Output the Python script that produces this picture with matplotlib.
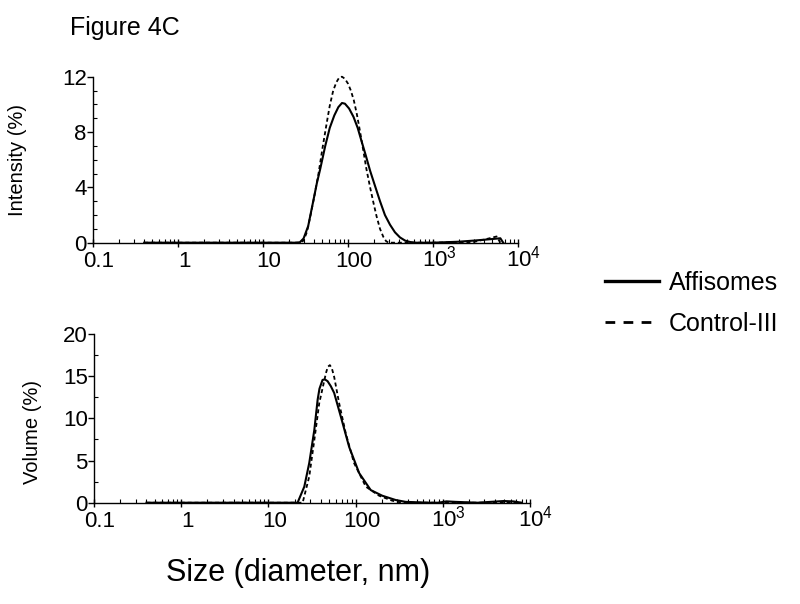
import matplotlib
matplotlib.use("Agg")
import matplotlib.pyplot as plt
import matplotlib.transforms as mtransforms
from matplotlib.lines import Line2D
from matplotlib.ticker import FixedLocator, MultipleLocator, LogLocator, NullFormatter

plt.rcParams['font.family'] = ['Liberation Sans', 'DejaVu Sans']

# --- data (size in nm, percent) ---
int_aff_size = [0.4, 1, 10, 24, 27, 30, 34, 39, 43, 47, 54, 61, 69, 77, 85, 92, 103, 116,
                130, 145, 162, 182, 208, 238, 272, 312, 357, 409, 470, 537, 620,
                1000, 2000, 3000, 4700, 6200, 6700]
int_aff_val = [0, 0, 0, 0, 0.02, 0.3, 1.2, 3.0, 4.3, 5.3, 7.0, 8.3, 9.2, 9.8, 10.1, 10.05,
               9.7, 9.1, 8.3, 7.3, 6.3, 5.2, 4.1, 3.0, 2.0, 1.3, 0.75, 0.38, 0.15, 0.05, 0,
               0, 0.07, 0.15, 0.25, 0.32, 0]

int_ctl_size = [0.4, 10, 27, 30, 33, 36, 40, 45, 50, 56, 61, 67, 73, 79, 85, 92, 100, 108,
                117, 127, 138, 151, 165, 182, 199, 217, 238, 260, 280, 300,
                1000, 3000, 4500, 5600, 6200]
int_ctl_val = [0, 0, 0, 0.15, 0.8, 1.9, 3.3, 5.0, 6.8, 8.6, 9.9, 11.0, 11.6, 11.95, 12.0,
               11.85, 11.5, 11.0, 10.3, 9.3, 8.1, 6.7, 5.3, 4.0, 2.9, 1.9, 1.0, 0.43, 0.12, 0,
               0, 0.05, 0.3, 0.45, 0]

vol_aff_size = [0.4, 1, 10, 21.6, 25.8, 29.4, 33.6, 36.7, 38.5, 41.8, 44.5, 47.7, 52,
                56.8, 67.7, 84.4, 110, 149, 202, 288, 375, 700, 900, 1100, 1400, 2500,
                5000, 6500, 8000]
vol_aff_val = [0, 0, 0, 0, 1.9, 4.7, 8.6, 12.2, 13.5, 14.55, 14.6, 14.4, 13.8,
               13.0, 10.2, 6.6, 3.5, 1.5, 0.83, 0.32, 0.1, 0, 0, 0.16, 0.1, 0,
               0.2, 0.15, 0]

vol_ctl_size = [0.4, 1, 10, 24.7, 29.4, 33.6, 38.3, 45.7, 48, 50.7, 53.5, 56.8, 64.7,
                77.2, 96, 131, 186, 263, 340, 1000, 8000]
vol_ctl_val = [0, 0, 0, 0, 3.1, 7.4, 11.8, 15.35, 16.1, 16.3, 15.9, 14.9, 11.8,
               8.2, 4.7, 1.9, 0.83, 0.24, 0, 0, 0]

xtick_pos = [0.1, 1, 10, 100, 1000, 10000]
xtick_lab = ['0.1', '1', '10', '100', r'$\mathregular{10^3}$', r'$\mathregular{10^4}$']

fig = plt.figure(figsize=(8, 6.04), dpi=100)
ax1 = fig.add_axes([0.11625, 0.5982, 0.53125, 0.2748])
ax2 = fig.add_axes([0.1175, 0.1677, 0.545, 0.2795])

solid_kw = dict(color='black', lw=1.5, solid_joinstyle='round')
dash_kw = dict(color='black', lw=1.3, linestyle=(0, (2.2, 1.6)))

ax1.plot(int_aff_size, int_aff_val, clip_on=False, **solid_kw)
ax1.plot(int_ctl_size, int_ctl_val, clip_on=False, **dash_kw)
ax2.plot(vol_aff_size, vol_aff_val, clip_on=False, **solid_kw)
ax2.plot(vol_ctl_size, vol_ctl_val, clip_on=False, **dash_kw)

for ax, ymax, ymaj, ymin, ylab, lx, ly in [
        (ax1, 12, 4, 1, 'Intensity (%)', -0.155, 0.5),
        (ax2, 20, 5, 2.5, 'Volume (%)', -0.12, 0.42)]:
    ax.set_xscale('log')
    ax.set_xlim(0.1, 1e4)
    ax.set_ylim(0, ymax)
    ax.spines['top'].set_visible(False)
    ax.spines['right'].set_visible(False)
    ax.spines['left'].set_linewidth(1.0)
    ax.spines['bottom'].set_linewidth(1.0)
    ax.xaxis.set_major_locator(FixedLocator(xtick_pos))
    ax.set_xticklabels(xtick_lab)
    ax.xaxis.set_minor_locator(LogLocator(base=10, subs=range(2, 10), numticks=20))
    ax.xaxis.set_minor_formatter(NullFormatter())
    ax.yaxis.set_major_locator(MultipleLocator(ymaj))
    ax.yaxis.set_minor_locator(MultipleLocator(ymin))
    ax.tick_params(axis='x', which='major', direction='inout', length=6, width=1,
                   labelsize=16, pad=0)
    ax.tick_params(axis='x', which='minor', direction='in', length=3, width=0.8)
    ax.tick_params(axis='y', which='major', direction='out', length=4, width=1,
                   labelsize=16, pad=0.5)
    ax.tick_params(axis='y', which='minor', direction='in', length=3, width=0.8)
    ax.set_ylabel(ylab, fontsize=14.5)
    ax.yaxis.set_label_coords(lx, ly)
    # keep all x labels on a common baseline (superscripts must not push "10" down)
    offset = mtransforms.ScaledTranslation(6 / 100, -20 / 100, fig.dpi_scale_trans)
    for lab in ax.get_xticklabels():
        lab.set_verticalalignment('baseline')
        lab.set_transform(lab.get_transform() + offset)

fig.text(70 / 800, 1 - 35 / 604, 'Figure 4C', fontsize=18, va='baseline')
fig.text(298 / 800, 1 - 573 / 604, 'Size (diameter, nm)', fontsize=22,
         ha='center', va='center')

handles = [Line2D([], [], color='black', lw=2.4),
           Line2D([], [], color='black', lw=2.0, linestyle=(0, (3.5, 3)))]
fig.legend(handles, ['Affisomes', 'Control-III'], loc='upper left',
           bbox_to_anchor=(605 / 800, 1 - 271 / 604), frameon=False, fontsize=18,
           handlelength=2.15, handletextpad=0.4, labelspacing=0.68,
           borderpad=0, borderaxespad=0)

fig.savefig('out.png', dpi=100)
